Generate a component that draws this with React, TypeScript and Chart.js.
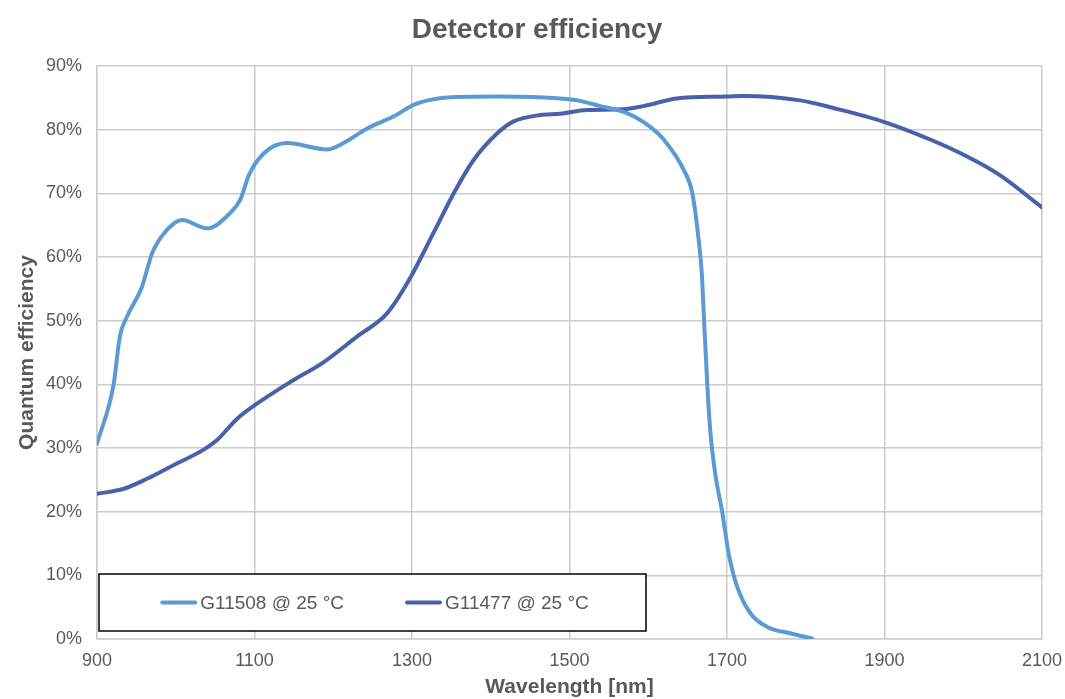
import React, { useEffect, useRef } from 'react';
import { Chart, registerables } from 'chart.js';

Chart.register(...registerables);

// ---- data ----
const SERIES_LABELS = ['G11508 @ 25 °C', 'G11477 @ 25 °C'];

const WAVELENGTH_G11508 = [
  900, 921, 929, 938, 957, 970, 985, 1008, 1040, 1069, 1082, 1093, 1112, 1141,
  1192, 1213, 1243, 1277, 1302, 1320, 1349, 1412, 1484, 1510, 1539, 1573, 1603,
  1620, 1645, 1656, 1664, 1668, 1671, 1675, 1679, 1685, 1694, 1702, 1713, 1730,
  1751, 1780, 1808,
];
const QE_G11508 = [
  30.7, 39.9, 47.5, 50.6, 55.3, 60.6, 63.7, 65.8, 64.5, 66.9, 69.0, 72.9, 76.3, 77.9,
  76.9, 77.9, 80.2, 82.1, 83.9, 84.6, 85.1, 85.2, 84.95, 84.6, 83.7, 82.6, 80.4,
  78.4, 73.7, 70.0, 62.7, 57.4, 49.8, 39.9, 32.3, 26.0, 19.9, 13.5, 8.2, 4.0,
  1.9, 0.9, 0.1,
];

const WAVELENGTH_G11477 = [
  900, 934, 964, 997, 1035, 1052, 1078, 1100, 1146, 1188, 1230, 1268, 1294, 1327,
  1353, 1378, 1408, 1429, 1463, 1488, 1522, 1568, 1594, 1636, 1700, 1721, 1793,
  1835, 1900, 1961, 2003, 2046, 2100,
];
const QE_G11477 = [
  22.8, 23.6, 25.2, 27.3, 29.7, 31.2, 34.6, 36.7, 40.4, 43.5, 47.5, 51.1, 55.9, 63.7,
  70.0, 75.2, 79.4, 81.3, 82.3, 82.5, 83.1, 83.2, 83.7, 84.9, 85.2, 85.3, 84.6,
  83.4, 81.2, 78.3, 75.9, 72.9, 67.8,
];

const X_MIN = 900;
const X_MAX = 2100;
const X_STEP = 200;
const Y_MIN = 0;
const Y_MAX = 90;
const Y_STEP = 10;

const TITLE = 'Detector efficiency';
const X_TITLE = 'Wavelength [nm]';
const Y_TITLE = 'Quantum efficiency';

// ---- styles ----
const FONT = "'Liberation Sans', Arial, Helvetica, sans-serif";
const TEXT = '#595959';
const GRID = '#CCCCCC';
const LIGHT = '#5B9BD5';
const DARK = '#4861AA';

const boxLegend = {
  id: 'boxLegend',
  afterDatasetsDraw(chart: any) {
    const { ctx, chartArea } = chart;
    const left = chartArea.left + 2;
    const top = chartArea.bottom - 65;
    const w = 547;
    const h = 57;
    ctx.save();
    ctx.fillStyle = '#ffffff';
    ctx.fillRect(left, top, w, h);
    ctx.strokeStyle = '#000000';
    ctx.lineWidth = 1.5;
    ctx.strokeRect(left, top, w, h);
    ctx.font = `19px ${FONT}`;
    const sample = 37;
    const gap = 3;
    const between = 61;
    const items = chart.data.datasets.map((ds: any) => ({
      label: ds.label as string,
      color: ds.borderColor as string,
      tw: ctx.measureText(ds.label).width,
    }));
    const total =
      items.reduce((s: number, it: any) => s + sample + gap + it.tw, 0) +
      between * (items.length - 1);
    let x = left + (w - total) / 2 + 2;
    const cy = top + h / 2;
    for (const it of items) {
      ctx.strokeStyle = it.color;
      ctx.lineWidth = 4;
      ctx.lineCap = 'round';
      ctx.beginPath();
      ctx.moveTo(x + 2, cy);
      ctx.lineTo(x + sample - 2, cy);
      ctx.stroke();
      ctx.fillStyle = TEXT;
      ctx.textBaseline = 'middle';
      ctx.textAlign = 'left';
      ctx.fillText(it.label, x + sample + gap, cy + 1);
      x += sample + gap + it.tw + between;
    }
    ctx.restore();
  },
};

export default function App() {
  const canvasRef = useRef<HTMLCanvasElement | null>(null);

  useEffect(() => {
    const canvas = canvasRef.current;
    if (!canvas) return;
    const toPoints = (xs: number[], ys: number[]) => xs.map((x, i) => ({ x, y: ys[i] }));

    const chart = new Chart(canvas, {
      type: 'line',
      data: {
        datasets: [
          {
            label: SERIES_LABELS[0],
            data: toPoints(WAVELENGTH_G11508, QE_G11508),
            borderColor: LIGHT,
            backgroundColor: LIGHT,
            borderWidth: 4,
            pointRadius: 0,
            cubicInterpolationMode: 'monotone',
            borderCapStyle: 'round',
            borderJoinStyle: 'round',
          },
          {
            label: SERIES_LABELS[1],
            data: toPoints(WAVELENGTH_G11477, QE_G11477),
            borderColor: DARK,
            backgroundColor: DARK,
            borderWidth: 4,
            pointRadius: 0,
            cubicInterpolationMode: 'monotone',
            borderCapStyle: 'round',
            borderJoinStyle: 'round',
          },
        ],
      },
      options: {
        responsive: false,
        animation: false,
        events: [],
        layout: { padding: { left: 9, right: 0, top: 0, bottom: 0 } },
        plugins: {
          legend: { display: false },
          tooltip: { enabled: false },
          title: {
            display: true,
            text: TITLE,
            color: TEXT,
            font: { family: FONT, size: 28, weight: 'bold', lineHeight: 1.2 },
            padding: { top: 13, bottom: 19.4 },
          },
        },
        scales: {
          x: {
            type: 'linear',
            min: X_MIN,
            max: X_MAX,
            afterFit: (scale: any) => {
              scale.height = 60;
              scale.paddingLeft = 0;
              scale.paddingRight = 23;
            },
            ticks: {
              stepSize: X_STEP,
              color: TEXT,
              font: { family: FONT, size: 18 },
              padding: 11,
              maxRotation: 0,
              callback: (v: any) => String(v),
            },
            grid: { color: GRID, lineWidth: 1.5, drawTicks: false },
            border: { color: GRID, width: 1.5 },
            title: {
              display: true,
              text: X_TITLE,
              color: TEXT,
              font: { family: FONT, size: 21, weight: 'bold', lineHeight: 1.1 },
              padding: { top: 0, bottom: 0 },
            },
          },
          y: {
            type: 'linear',
            min: Y_MIN,
            max: Y_MAX,
            afterFit: (scale: any) => {
              scale.width = 88;
            },
            ticks: {
              stepSize: Y_STEP,
              color: TEXT,
              font: { family: FONT, size: 18 },
              padding: 15,
              callback: (v: any) => `${v}%`,
            },
            grid: { color: GRID, lineWidth: 1.5, drawTicks: false },
            border: { color: GRID, width: 1.5 },
            title: {
              display: true,
              text: Y_TITLE,
              color: TEXT,
              font: { family: FONT, size: 21, weight: 'bold', lineHeight: 1.2 },
              padding: { top: 6, bottom: 0 },
            },
          },
        },
      },
      plugins: [boxLegend],
    } as any);

    return () => chart.destroy();
  }, []);

  return (
    <div style={{ position: 'absolute', left: 0, top: 0, width: 1065, height: 699, background: '#fff' }}>
      <canvas ref={canvasRef} width={1065} height={699} style={{ display: 'block' }} />
    </div>
  );
}
